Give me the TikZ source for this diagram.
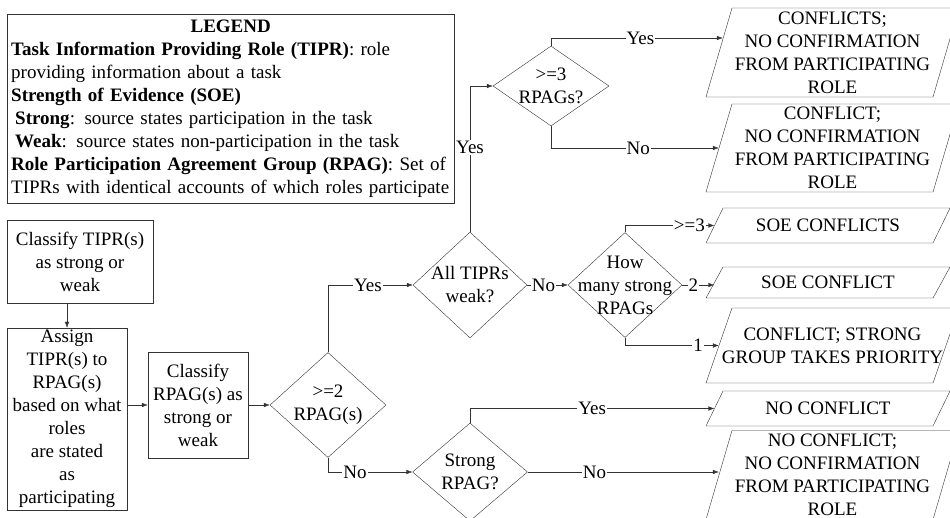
\documentclass[tikz,border=0pt]{standalone}
\usepackage{fontspec}
\setmainfont{Liberation Serif}
\usetikzlibrary{shapes.geometric, arrows.meta, calc}
\colorlet{linec}{black!80}

\begin{document}
\begin{tikzpicture}[x=1pt, y=-1pt,
    every node/.style={font=\fontsize{19}{23}\selectfont},
    box/.style={draw=linec, align=center, inner sep=2pt},
    dec/.style={diamond, draw=linec, inner sep=0pt},
    out/.style={align=center, minimum width=227pt, inner sep=0pt, minimum height=#1},
    lab/.style={fill=white, inner sep=1pt},
    arr/.style={draw=linec, -{Latex[length=6pt,width=4.5pt]}}]
    \useasboundingbox (0,0) rectangle (950,518);
    \clip (0,0) rectangle (950,518);

    \node[draw=linec, anchor=north west, text width=439pt, inner xsep=4pt, inner ysep=0pt,
        minimum height=189pt, align=left] (legend) at (7,14) {\makebox[\linewidth]{\textbf{LEGEND}}\\
        \textbf{Task Information Providing Role (TIPR)}: role\\
        providing information about a task\\
        \textbf{Strength of Evidence (SOE)}\\
        \hspace*{4pt}\textbf{Strong}: source states participation in the task\\
        \hspace*{4pt}\textbf{Weak}: source states non-participation in the task\\
        \textbf{Role Participation Agreement Group (RPAG)}: Set of\\
        TIPRs with identical accounts of which roles participate};

    % process boxes
    \node[box, minimum width=146pt, minimum height=83pt] (c1) at (80,261.5) {Classify TIPR(s)\\as strong or\\weak};
    \node[box, minimum width=120pt, minimum height=182pt] (a1) at (67,419) {Assign\\TIPR(s) to\\RPAG(s)\\based on what\\roles\\are stated\\as\\participating};
    \node[box, minimum width=100pt, minimum height=106pt] (c2) at (198,405) {Classify\\RPAG(s) as\\strong or\\weak};

    % decisions
    \node[dec, minimum width=116pt, minimum height=105pt, label={[align=center]center:{>=2\\RPAG(s)}}] (d1) at (328,405) {};
    \node[dec, minimum width=114pt, minimum height=106pt, label={[align=center]center:{All TIPRs\\weak?}}] (d2) at (470,285) {};
    \node[dec, minimum width=116pt, minimum height=80pt, label={[align=center]center:{>=3\\RPAGs?}}] (d3) at (551,86) {};
    \node[dec, minimum width=114pt, minimum height=105pt, label={[align=center]center:{How\\many strong\\RPAGs}}] (d5) at (625,285) {};
    \node[dec, minimum width=115pt, minimum height=98pt, label={[align=center]center:{Strong\\RPAG?}}] (d4) at (470,472) {};

    % outcomes
    \node[out=89pt] (o1) at (832.5,52.5) {CONFLICTS;\\NO CONFIRMATION\\FROM PARTICIPATING\\ROLE};
    \node[out=88pt] (o2) at (832.5,148) {CONFLICT;\\NO CONFIRMATION\\FROM PARTICIPATING\\ROLE};
    \node[out=35pt] (o3) at (828,225.5) {SOE CONFLICTS};
    \node[out=31pt] (o4) at (828,282.5) {SOE CONFLICT};
    \node[out=75pt] (o5) at (832.5,345.5) {CONFLICT; STRONG\\GROUP TAKES PRIORITY};
    \node[out=35pt] (o6) at (828,408.5) {NO CONFLICT};
    \node[out=89pt] (o7) at (832.5,475) {NO CONFLICT;\\NO CONFIRMATION\\FROM PARTICIPATING\\ROLE};
    \foreach \yb/\h/\s in {97/89/26, 192/88/26, 243/35/17, 298/31/17, 383/75/26, 426/35/17, 519.5/89/26}
        \draw[linec] (706,\yb) -- (933,\yb) -- (933+\s,\yb-\h) -- (706+\s,\yb-\h) -- cycle;

    \draw[arr] (c1.south -| a1.north) -- (a1.north);
    \draw[arr] (a1.east |- c2.west) -- (c2.west);
    \draw[arr] (c2.east) -- (d1.west);
    \draw[arr] (d1.north) |- (d2.west) node[lab, pos=0.735] {Yes};
    \draw[arr] (d1.south) |- (d4.west) node[lab, pos=0.66] {No};
    \draw[arr] (d2.north) |- (d3.west) node[lab, pos=0.29] {Yes};
    \draw[arr] (d3.north) |- ($(o1.west)+(4,-14.5)$) node[lab, pos=0.76] {Yes};
    \draw[arr] (d3.south) |- (o2.west) node[lab, pos=0.76] {No};
    \draw[arr] (d2.east) -- (d5.west) node[lab, pos=0.4] {No};
    \draw[arr] (d5.north) |- (o3.west) node[lab, pos=0.86] {>=3};
    \draw[arr] (d5.east) -- (d5.east -| o4.west) node[lab, pos=0.35] {2};
    \draw[arr] (d5.south) |- (o5.west) node[lab, pos=0.89] {1};
    \draw[arr] (d4.north) |- (o6.west) node[lab, pos=0.75] {Yes};
    \draw[arr] (d4.east) -- (d4.east -| o7.west) node[lab, pos=0.35] {No};
\end{tikzpicture}
\end{document}
